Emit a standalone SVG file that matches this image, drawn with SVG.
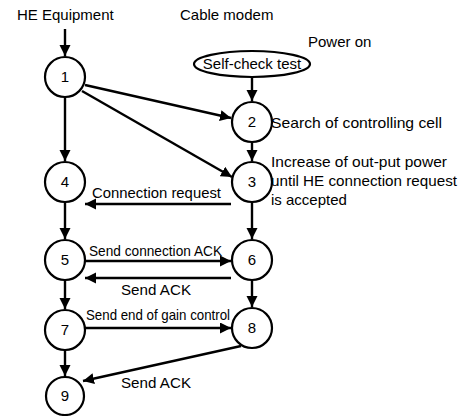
<svg xmlns="http://www.w3.org/2000/svg" width="465" height="416" viewBox="0 0 465 416">
<style>
text{font-family:"Liberation Sans",Arial,sans-serif;font-size:15px;fill:#000}
.n{text-anchor:middle}
circle,ellipse{fill:#fff;stroke:#000;stroke-width:2.2}
.c line{stroke:#000;stroke-width:2.4;marker-end:url(#ah)}
</style>
<defs>
<marker id="ah" markerUnits="userSpaceOnUse" markerWidth="12" markerHeight="12" refX="11" refY="5.5" orient="auto">
<path d="M0,0 L11,5.5 L0,11 z" fill="#000"/>
</marker>
</defs>
<text x="17" y="19.5">HE Equipment</text>
<text x="180" y="19.5">Cable modem</text>
<text x="308" y="47">Power on</text>
<text x="271" y="128" textLength="171" lengthAdjust="spacingAndGlyphs">Search of controlling cell</text>
<text x="271" y="167" textLength="176" lengthAdjust="spacingAndGlyphs">Increase of out-put power</text>
<text x="271" y="186" textLength="186" lengthAdjust="spacingAndGlyphs">until HE connection request</text>
<text x="271" y="205">is accepted</text>
<g class="c">
<line x1="65" y1="29" x2="65" y2="56"/>
<line x1="252" y1="77" x2="252" y2="101"/>
<line x1="85" y1="85" x2="231" y2="118"/>
<line x1="82" y1="91" x2="232" y2="177"/>
<line x1="252" y1="142" x2="252" y2="161"/>
<line x1="65" y1="97" x2="65" y2="161"/>
<line x1="231" y1="204" x2="85" y2="204"/>
<line x1="65" y1="202" x2="65" y2="239"/>
<line x1="252" y1="202" x2="252" y2="239"/>
<line x1="85" y1="261" x2="231" y2="261"/>
<line x1="231" y1="278" x2="85" y2="278"/>
<line x1="65" y1="280" x2="65" y2="309"/>
<line x1="252" y1="281" x2="252" y2="307"/>
<line x1="85" y1="328" x2="231" y2="328"/>
<line x1="241" y1="346" x2="83" y2="381"/>
<line x1="65" y1="350" x2="65" y2="376"/>
</g>
<text x="92" y="198" textLength="129" lengthAdjust="spacingAndGlyphs">Connection request</text>
<text x="89" y="256" textLength="133" lengthAdjust="spacingAndGlyphs">Send connection ACK</text>
<text x="121" y="295" textLength="70" lengthAdjust="spacingAndGlyphs">Send ACK</text>
<text x="86" y="320" textLength="144" lengthAdjust="spacingAndGlyphs">Send end of gain control</text>
<text x="121" y="388" textLength="70" lengthAdjust="spacingAndGlyphs">Send ACK</text>
<g id="selfcheck"><ellipse cx="252" cy="64" rx="58" ry="13"/><text class="n" x="252" y="69">Self-check test</text></g>
<g id="n1"><circle cx="65" cy="77" r="20"/><text class="n" x="65" y="82">1</text></g>
<g id="n2"><circle cx="252" cy="122" r="20"/><text class="n" x="252" y="127">2</text></g>
<g id="n3"><circle cx="252" cy="182" r="20"/><text class="n" x="252" y="187">3</text></g>
<g id="n4"><circle cx="65" cy="182" r="20"/><text class="n" x="65" y="187">4</text></g>
<g id="n5"><circle cx="65" cy="260" r="20"/><text class="n" x="65" y="265">5</text></g>
<g id="n6"><circle cx="252" cy="260" r="20"/><text class="n" x="252" y="265">6</text></g>
<g id="n7"><circle cx="65" cy="330" r="20"/><text class="n" x="65" y="335">7</text></g>
<g id="n8"><circle cx="252" cy="328" r="20"/><text class="n" x="252" y="333">8</text></g>
<g id="n9"><circle cx="65" cy="396" r="19"/><text class="n" x="65" y="401">9</text></g>
</svg>
